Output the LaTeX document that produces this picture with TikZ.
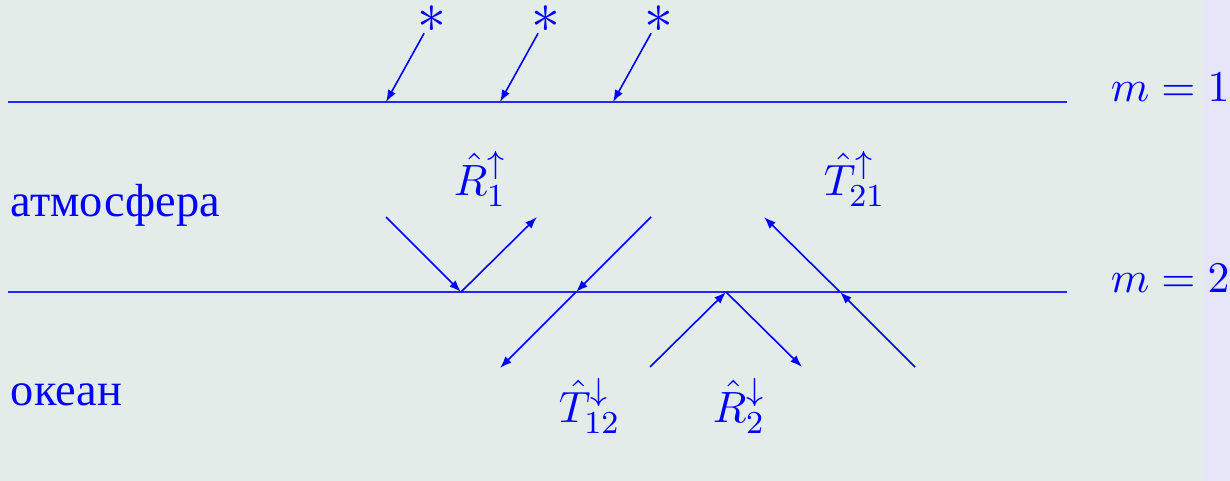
\documentclass[tikz,border=0pt,11pt]{standalone}
\usepackage[no-math]{fontspec}
\newfontfamily\cyrfont{Liberation Serif}
\usepackage{tikz}
\usetikzlibrary{arrows.meta}
\definecolor{slidebg}{RGB}{227,236,233}
\definecolor{sidebar}{RGB}{230,230,248}

\begin{document}
\begin{tikzpicture}[x=0.25pt,y=-0.25pt,
  level/.style={blue!85!white, line width=0.45pt},
  ray/.style={blue, line width=0.4pt},
  arr/.style={ray, -{Latex[length=3pt,width=2.2pt]}},
  lbl/.style={text=blue, inner sep=0pt, anchor=base west},
  medium/.style={lbl, font=\cyrfont\fontsize{11.6}{14}\selectfont},
  starnode/.style={text=blue, inner sep=0pt, font=\Large}
]
\useasboundingbox (0,0) rectangle (1230,481);
\fill[slidebg] (0,0) rectangle (1203,481);
\fill[sidebar] (1203,0) rectangle (1230,481);
% the two levels
\coordinate (l1w) at (8,102);  \coordinate (l1e) at (1067,102);
\coordinate (l2w) at (8,292);  \coordinate (l2e) at (1067,292);
\draw[level] (l1w) -- (l1e);
\draw[level] (l2w) -- (l2e);
\node[lbl] (m1) at (1110,102) {$m=1$};
\node[lbl] (m2) at (1110,292) {$m=2$};
\node[medium] (atm) at (10,217) {атмосфера};
\node[medium] (ocean) at (10,405) {океан};
% sources
\foreach \i/\x in {1/432,2/546,3/659}{
  \node[starnode] (s\i) at (\x,19) {$\ast$};
  \coordinate (h\i) at (\x-46,102);
  \draw[arr] (s\i) -- (h\i);
}
% reflection and transmission at m=2
\coordinate (r1in) at (386,217); \coordinate (r1) at (461,292); \coordinate (r1out) at (537,217);
\draw[arr] (r1in) -- (r1);
\draw[arr] (r1) -- (r1out);
\coordinate (t12a) at (651,217); \coordinate (t12m) at (576,292); \coordinate (t12b) at (500,368);
\draw[arr] (t12a) -- (t12m);
\draw[arr] (t12m) -- (t12b);
\coordinate (r2in) at (650,367); \coordinate (r2) at (726,292); \coordinate (r2out) at (802,367);
\draw[arr] (r2in) -- (r2);
\draw[arr] (r2) -- (r2out);
\coordinate (t21a) at (915,367); \coordinate (t21m) at (840,292); \coordinate (t21b) at (764,217);
\draw[arr] (t21a) -- (t21m);
\draw[arr] (t21m) -- (t21b);
\node[lbl] (R1) at (453,195) {$\hat{R}_1^{\uparrow}$};
\node[lbl] (T21) at (823,195) {$\hat{T}_{21}^{\uparrow}$};
\node[lbl] (T12) at (558,422) {$\hat{T}_{12}^{\downarrow}$};
\node[lbl] (R2) at (712,422) {$\hat{R}_2^{\downarrow}$};
\end{tikzpicture}
\end{document}
